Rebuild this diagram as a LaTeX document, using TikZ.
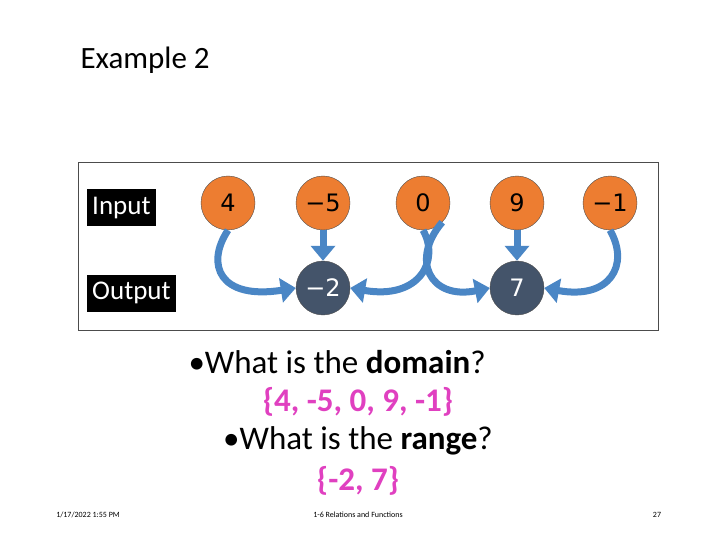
\documentclass[tikz,border=0pt]{standalone}
\usepackage{fontspec}
\setmainfont{Carlito}
\newfontfamily\numfont{DejaVu Sans}
\usetikzlibrary{arrows.meta}
\definecolor{orng}{HTML}{ED7D31}
\definecolor{dark}{HTML}{44546A}
\definecolor{arrb}{HTML}{4A86C5}
\definecolor{pink}{HTML}{E040C0}
\tikzset{
 inc/.style={circle,draw=black!70,fill=orng,minimum size=54pt,inner sep=0pt,font=\numfont\fontsize{24}{26}\selectfont},
 outc/.style={circle,draw=black!70,fill=dark,text=white,minimum size=54pt,inner sep=0pt,font=\numfont\fontsize{24}{26}\selectfont},
 lab/.style={fill=black,text=white,anchor=west,font=\fontsize{27}{30}\selectfont,minimum height=37pt,inner sep=5pt},
 arr/.style={draw=arrb,line width=7pt,-{Triangle[width=24pt,length=15pt]}},
 txt/.style={font=\fontsize{33}{36}\selectfont}
}
\begin{document}
\begin{tikzpicture}[x=1pt,y=-1pt]
\useasboundingbox[fill=white] (0,0) rectangle (720,540);
\node[anchor=west,font=\fontsize{31}{34}\selectfont] (title) at (77,60) {Example 2};
\node[draw=black!70,line width=0.8pt,minimum width=580pt,minimum height=168pt,anchor=north west] (frame) at (78,162) {};
\node[lab] (in) at (87,208) {Input};
\node[lab] (out) at (87,293) {Output};
\node[inc] (a) at (228,203) {4};
\node[inc] (b) at (323,203) {−5};
\node[inc] (c) at (423,203) {0};
\node[inc] (d) at (517,203) {9};
\node[inc] (e) at (610,203) {−1};
\node[outc] (p) at (323,288) {−2};
\node[outc] (q) at (517,288) {7};
\draw[arr] (a.south) .. controls (205,265) and (220,300) .. (p.west);
\draw[arr] (b.south) -- (p.north);
\draw[arr] (c.south) .. controls (440,260) and (420,300) .. (p.east);
\draw[arr] (c.south east) .. controls (410,260) and (430,300) .. (q.west);
\draw[arr] (d.south) -- (q.north);
\draw[arr] (e.south) .. controls (630,265) and (610,300) .. (q.east);
\node[txt,anchor=west] (q1) at (185,362) {\textbullet What is the \textbf{domain}?};
\node[txt,text=pink,font=\fontsize{33}{36}\selectfont\bfseries] (s1) at (358,402) {\{4, -5, 0, 9, -1\}};
\node[txt] (q2) at (358,441) {\textbullet What is the \textbf{range}?};
\node[txt,text=pink,font=\fontsize{33}{36}\selectfont\bfseries] (s2) at (358,481) {\{-2, 7\}};
\node[font=\fontsize{8}{9}\selectfont] (date) at (88,515) {1/17/2022 1:55 PM};
\node[font=\fontsize{8}{9}\selectfont] (foot) at (358,515) {1-6 Relations and Functions};
\node[font=\fontsize{8}{9}\selectfont] (pg) at (657,515) {27};
\end{tikzpicture}
\end{document}
